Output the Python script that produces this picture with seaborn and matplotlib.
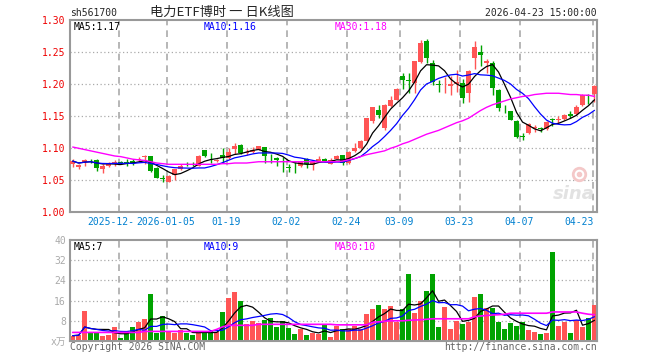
import numpy as np
import pandas as pd
import seaborn as sns
import matplotlib.pyplot as plt

# ---- values (88 trading days) ----
opens = [1.076, 1.071, 1.079, 1.0815, 1.081, 1.068, 1.073, 1.076, 1.079, 1.078,
         1.080, 1.082, 1.086, 1.088, 1.069, 1.053, 1.048, 1.058, 1.068, 1.076,
         1.076, 1.073, 1.097, 1.087, 1.080, 1.089, 1.085, 1.099, 1.105, 1.093,
         1.094, 1.098, 1.102, 1.087, 1.085, 1.080, 1.070, 1.073, 1.072, 1.084,
         1.074, 1.080, 1.084, 1.076, 1.084, 1.090, 1.077, 1.096, 1.100, 1.112,
         1.142, 1.160, 1.131, 1.166, 1.176, 1.213, 1.206, 1.202, 1.235, 1.267,
         1.233, 1.200, 1.197, 1.198, 1.201, 1.202, 1.186, 1.241, 1.250, 1.234,
         1.233, 1.191, 1.162, 1.158, 1.143, 1.119, 1.124, 1.132, 1.131, 1.130,
         1.146, 1.145, 1.146, 1.154, 1.154, 1.168, 1.183, 1.185]
highs = [1.083, 1.076, 1.083, 1.084, 1.084, 1.076, 1.078, 1.082, 1.080, 1.084,
         1.084, 1.086, 1.089, 1.088, 1.070, 1.058, 1.058, 1.068, 1.075, 1.078,
         1.078, 1.089, 1.098, 1.093, 1.083, 1.100, 1.100, 1.108, 1.107, 1.099,
         1.102, 1.104, 1.102, 1.091, 1.086, 1.087, 1.076, 1.079, 1.080, 1.085,
         1.080, 1.088, 1.085, 1.085, 1.090, 1.090, 1.096, 1.109, 1.113, 1.148,
         1.165, 1.168, 1.169, 1.182, 1.194, 1.217, 1.217, 1.237, 1.269, 1.271,
         1.238, 1.207, 1.212, 1.213, 1.222, 1.209, 1.222, 1.268, 1.262, 1.240,
         1.236, 1.192, 1.168, 1.159, 1.144, 1.124, 1.139, 1.137, 1.134, 1.142,
         1.148, 1.151, 1.154, 1.159, 1.167, 1.185, 1.185, 1.199]
lows = [1.070, 1.068, 1.072, 1.077, 1.064, 1.061, 1.070, 1.073, 1.075, 1.073,
        1.074, 1.080, 1.076, 1.063, 1.053, 1.047, 1.047, 1.050, 1.066, 1.072,
        1.073, 1.072, 1.087, 1.077, 1.078, 1.077, 1.083, 1.091, 1.091, 1.089,
        1.093, 1.097, 1.077, 1.077, 1.072, 1.063, 1.063, 1.061, 1.071, 1.069,
        1.066, 1.078, 1.078, 1.075, 1.083, 1.074, 1.075, 1.095, 1.099, 1.111,
        1.140, 1.147, 1.129, 1.165, 1.175, 1.193, 1.186, 1.186, 1.234, 1.233,
        1.199, 1.188, 1.186, 1.183, 1.188, 1.171, 1.173, 1.224, 1.228, 1.218,
        1.184, 1.158, 1.155, 1.144, 1.116, 1.113, 1.122, 1.125, 1.126, 1.128,
        1.135, 1.140, 1.144, 1.148, 1.152, 1.166, 1.169, 1.172]
closes = [1.080, 1.074, 1.081, 1.081, 1.069, 1.073, 1.075, 1.079, 1.077, 1.077,
          1.077, 1.084, 1.088, 1.064, 1.054, 1.052, 1.057, 1.067, 1.073, 1.075,
          1.075, 1.088, 1.088, 1.086, 1.082, 1.085, 1.095, 1.104, 1.092, 1.095,
          1.097, 1.103, 1.088, 1.086, 1.081, 1.079, 1.069, 1.072, 1.079, 1.076,
          1.079, 1.083, 1.079, 1.081, 1.088, 1.077, 1.095, 1.101, 1.112, 1.147,
          1.164, 1.152, 1.167, 1.176, 1.193, 1.207, 1.205, 1.236, 1.264, 1.241,
          1.204, 1.199, 1.198, 1.200, 1.203, 1.179, 1.221, 1.258, 1.245, 1.236,
          1.194, 1.163, 1.161, 1.145, 1.118, 1.118, 1.138, 1.133, 1.130, 1.141,
          1.145, 1.146, 1.152, 1.150, 1.165, 1.184, 1.182, 1.198]
volumes = [2.1, 2.5, 12.0, 3.2, 3.2, 2.0, 2.4, 5.5, 1.3, 3.2,
           5.5, 7.5, 8.7, 18.6, 3.2, 9.9, 3.6, 3.2, 4.4, 3.2,
           2.4, 3.2, 3.8, 4.0, 3.6, 11.5, 17.0, 19.4, 16.0, 6.7,
           7.9, 7.1, 8.3, 9.1, 5.5, 7.9, 5.1, 2.8, 4.8, 2.4,
           3.2, 2.8, 6.7, 1.6, 6.0, 4.7, 4.9, 6.0, 4.7, 10.5,
           12.5, 14.1, 12.5, 13.7, 7.7, 12.5, 26.5, 10.9, 15.9, 19.7,
           26.5, 5.7, 13.3, 4.9, 8.1, 6.9, 7.7, 17.3, 18.5, 12.9,
           12.9, 7.7, 4.9, 7.3, 6.1, 7.7, 4.5, 3.7, 2.9, 3.3,
           35.3, 6.1, 7.7, 3.3, 8.5, 5.7, 9.3, 14.1]
# 30-day averages as drawn (they reach back before the visible window)
ma30_price = [1.102, 1.100, 1.098, 1.096, 1.094, 1.092, 1.090, 1.088, 1.087, 1.085,
              1.083, 1.082, 1.081, 1.079, 1.077, 1.076, 1.075, 1.075, 1.075, 1.075,
              1.075, 1.075, 1.075, 1.075, 1.075, 1.076, 1.076, 1.077, 1.077, 1.077,
              1.078, 1.079, 1.079, 1.079, 1.079, 1.079, 1.079, 1.079, 1.079, 1.079,
              1.079, 1.079, 1.079, 1.079, 1.079, 1.080, 1.082, 1.084, 1.087, 1.090,
              1.092, 1.094, 1.096, 1.100, 1.103, 1.107, 1.110, 1.114, 1.118, 1.122,
              1.125, 1.128, 1.132, 1.136, 1.140, 1.143, 1.147, 1.153, 1.159, 1.164,
              1.168, 1.171, 1.174, 1.177, 1.179, 1.181, 1.182, 1.184, 1.185, 1.186,
              1.186, 1.186, 1.185, 1.184, 1.184, 1.183, 1.183, 1.181]
ma30_vol = [3.4] * 12 + [3.8] * 12 + [4.6, 5.6, 6.2, 6.2, 6.2, 6.2, 6.2] + [6.6] * 13 + \
           [6.4] * 6 + [7.4, 7.6, 7.8, 8.0, 8.0, 8.0, 8.2, 8.3, 8.4, 8.6] + [8.8] * 7 + \
           [9.6, 9.9, 10.1, 10.3, 10.4, 10.6] + [11.0] * 7 + [11.5] * 5 + [11.0, 10.6, 10.4]

date_pos = [7.65, 15.7, 25.7, 35.7, 45.7, 54.65, 64.6, 74.6, 86.7]
date_labels = ["2025-12-", "2026-01-05", "01-19", "02-02", "02-24",
               "03-09", "03-23", "04-07", "04-23"]
price_ticks = [1.00, 1.05, 1.10, 1.15, 1.20, 1.25, 1.30]
vol_ticks = [0, 8, 16, 24, 32, 40]
vol_labels = ["x万", "8", "16", "24", "32", "40"]

RED = "#ff5555"
GREEN = "#00a300"
GRID = "#aaaaaa"
SPINE = "#999999"
MONO = "DejaVu Sans Mono"

sns.set_style("white")
plt.rcParams["font.family"] = [MONO, "Noto Sans CJK SC"]

df = pd.DataFrame({"i": np.arange(len(closes)), "open": opens, "high": highs,
                   "low": lows, "close": closes, "vol": volumes,
                   "ma30": ma30_price, "vma30": ma30_vol})
df["up"] = df["close"] >= df["open"]
df["ma5"] = df["close"].rolling(5, min_periods=1).mean()
df["ma10"] = df["close"].rolling(10, min_periods=1).mean()
df["vma5"] = df["vol"].rolling(5, min_periods=1).mean()
df["vma10"] = df["vol"].rolling(10, min_periods=1).mean()

W, H = 660, 360
fig = plt.figure(figsize=(W / 100, H / 100), dpi=100)


def box(x0, y0, x1, y1):
    return [x0 / W, 1 - y1 / H, (x1 - x0) / W, (y1 - y0) / H]


def ftext(x, y, s, **kw):
    kw.setdefault("va", "center")
    kw.setdefault("fontsize", 7)
    fig.text(x / W, 1 - y / H, s, **kw)


ax = fig.add_axes(box(70, 20.3, 597, 212.3))
axv = fig.add_axes(box(70, 240, 597, 341))

# grid
for a in (ax, axv):
    for x in date_pos:
        a.axvline(x, color=GRID, lw=1.2, ls=(0, (4, 3)), zorder=0)
for y in price_ticks[1:-1]:
    ax.axhline(y, color=GRID, lw=0.9, ls=(0, (1, 2)), zorder=0)
for y in vol_ticks[1:-1]:
    axv.axhline(y, color=GRID, lw=0.9, ls=(0, (1, 2)), zorder=0)

# candles
cols = np.where(df["up"], RED, GREEN)
ax.vlines(df["i"], df["low"], df["high"], colors=cols, lw=1, zorder=2)
body = np.maximum((df["close"] - df["open"]).abs(), 0.0008)
ax.bar(df["i"], body, bottom=np.minimum(df["open"], df["close"]),
       width=0.8, color=cols, lw=0, zorder=3)

sns.lineplot(data=df, x="i", y="ma5", ax=ax, color="black", lw=0.9, zorder=4)
sns.lineplot(data=df, x="i", y="ma10", ax=ax, color="#0000ff", lw=0.9, zorder=4)
sns.lineplot(data=df, x="i", y="ma30", ax=ax, color="#ff00ff", lw=1.0, zorder=4)

# volume
axv.bar(df["i"], df["vol"], width=0.8, color=cols, lw=0, zorder=2)
sns.lineplot(data=df, x="i", y="vma5", ax=axv, color="black", lw=0.9, zorder=4)
sns.lineplot(data=df, x="i", y="vma10", ax=axv, color="#0000ff", lw=0.9, zorder=4)
sns.lineplot(data=df, x="i", y="vma30", ax=axv, color="#ff00ff", lw=1.2, zorder=4)

xlim = (-0.45, 87.42)
ax.set_xlim(xlim)
axv.set_xlim(xlim)
ax.set_ylim(1.00, 1.30)
axv.set_ylim(0, 40)

for a in (ax, axv):
    a.set_xlabel("")
    a.set_ylabel("")
    a.set_xticks([])
    for s in a.spines.values():
        s.set_color(SPINE)
        s.set_linewidth(1.5)

ax.set_yticks(price_ticks)
ax.set_yticklabels([f"{v:.2f}" for v in price_ticks])
ax.tick_params(axis="y", length=0, pad=3, labelsize=7, labelcolor="#ee0000")
axv.set_yticks(vol_ticks)
axv.set_yticklabels(vol_labels)
axv.tick_params(axis="y", length=0, pad=3, labelsize=7, labelcolor="#aaaaaa")

# date labels
tr = ax.get_xaxis_transform()
for k, (x, lab) in enumerate(zip(date_pos, date_labels)):
    if k == 0:
        ha, xx = "left", x - 5.2
    elif k == len(date_pos) - 1:
        ha, xx = "right", x + 0.1
    else:
        ha, xx = "center", x - 0.2
    ax.text(xx, -0.049, lab, transform=tr, ha=ha, va="center",
            fontsize=7, color="#0080d0")

# watermark: faint eye logo + "sina"
ax.plot([0.965], [0.2], transform=ax.transAxes, marker="o", ms=9, mfc="none",
        mec="#f4c8c8", mew=2, zorder=1)
ax.plot([0.965], [0.2], transform=ax.transAxes, marker="o", ms=3,
        color="#f4c8c8", zorder=1)
ax.text(0.995, 0.095, "sina", transform=ax.transAxes, ha="right", va="center",
        fontsize=13, fontstyle="italic", fontweight="bold", color="#e2e2e2",
        family="DejaVu Sans", zorder=1)

# header texts
ftext(70, 13, "sh561700")
ftext(222, 12.5, "电力ETF博时 一 日K线图", ha="center", fontsize=9.5,
      family=["Noto Sans CJK SC", "DejaVu Sans"])
ftext(597, 13, "2026-04-23 15:00:00", ha="right")
ftext(74, 26.5, "MA5:1.17", color="black")
ftext(204, 26.5, "MA10:1.16", color="#0000ff")
ftext(334.5, 26.5, "MA30:1.18", color="#ff00ff")
ftext(74, 246.5, "MA5:7", color="black")
ftext(204, 246.5, "MA10:9", color="#0000ff")
ftext(334.5, 246.5, "MA30:10", color="#ff00ff")
ftext(70, 347, "Copyright 2026 SINA.COM", color="#666666")
ftext(597, 347, "http://finance.sina.com.cn", ha="right", color="#666666")

fig.savefig("out.png", dpi=100)
